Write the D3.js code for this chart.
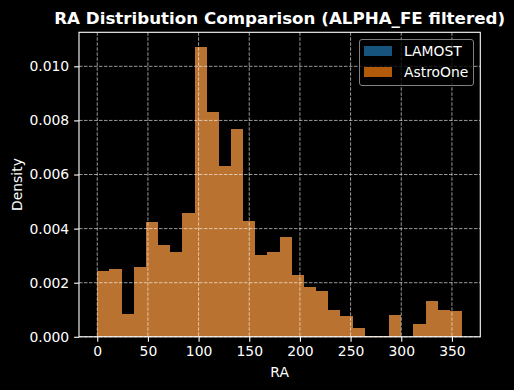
<!DOCTYPE html>
<html><head><meta charset="utf-8">
<script src="https://cdn.jsdelivr.net/npm/d3@7/dist/d3.min.js"></script>
<style>
html,body{margin:0;padding:0;background:#000;}
svg{display:block;font-family:"DejaVu Sans",sans-serif;}
</style></head>
<body>
<svg id="c" width="514" height="390"></svg>
<script>
const binEdges = d3.range(0, 361, 12);
const lamostDensity = [0.002426,0.0025,0.000833,0.002574,0.004241,0.003389,0.00313,0.004574,0.010722,0.008315,0.006315,0.007685,0.004278,0.003019,0.00313,0.003685,0.002278,0.001833,0.001685,0.000981,0.000759,0.000315,0.00003,0.00003,0.000796,0,0.000463,0.001315,0.000981,0.000944];
const astroDensity = lamostDensity.slice();
const xTicks = [0,50,100,150,200,250,300,350];
const yTicks = [0,0.002,0.004,0.006,0.008,0.010];
const seriesNames = ["LAMOST","AstroOne"];
const seriesColors = ["#1f77b4","#ff7f0e"];

const svg = d3.select("#c");
const L=79, R=480.3, T=32.3, B=336.8;
const x = d3.scaleLinear().domain([-18,378]).range([L,R]);
const ymax = d3.max(lamostDensity.concat(astroDensity))*1.05;
const y = d3.scaleLinear().domain([0,ymax]).range([B,T]);

[lamostDensity, astroDensity].forEach((vals,si)=>{
  svg.append("g").attr("shape-rendering","crispEdges").selectAll("rect").data(vals).join("rect")
    .attr("x",(d,i)=>Math.round(x(binEdges[i])))
    .attr("width",(d,i)=>Math.round(x(binEdges[i+1]))-Math.round(x(binEdges[i])))
    .attr("y",d=>Math.round(y(d)))
    .attr("height",d=>Math.round(B)-Math.round(y(d)))
    .attr("fill",seriesColors[si]).attr("fill-opacity",0.7);
});

// grid
const g = svg.append("g").attr("stroke","#ffffff").attr("stroke-opacity",0.75).attr("stroke-width",0.8).attr("stroke-dasharray","3.5,1.5");
xTicks.forEach(t=>g.append("line").attr("x1",x(t)).attr("x2",x(t)).attr("y1",T).attr("y2",B));
yTicks.forEach(t=>g.append("line").attr("x1",L).attr("x2",R).attr("y1",y(t)).attr("y2",y(t)));

// axes
const xa = svg.append("g").attr("transform",`translate(0,${B})`)
  .call(d3.axisBottom(x).tickValues(xTicks).tickSize(4.9).tickPadding(4.9).tickFormat(d3.format("d")));
const ya = svg.append("g").attr("transform",`translate(${L},0)`)
  .call(d3.axisLeft(y).tickValues(yTicks).tickSize(4.9).tickPadding(4.9).tickFormat(d3.format(".3f")));
[xa,ya].forEach(a=>{
  a.select(".domain").remove();
  a.selectAll("line").attr("stroke","#fff").attr("stroke-width",1.1);
  a.selectAll("text").attr("fill","#fff").attr("font-size",13.9).attr("font-family","DejaVu Sans");
});
svg.append("rect").attr("x",L).attr("y",T).attr("width",R-L).attr("height",B-T)
  .attr("fill","none").attr("stroke","#fff").attr("stroke-width",1.1);

// labels
svg.append("text").attr("x",(L+R)/2).attr("y",24).attr("text-anchor","middle")
  .attr("fill","#fff").attr("font-size",16.7).attr("font-weight","bold").text("RA Distribution Comparison (ALPHA_FE filtered)");
svg.append("text").attr("x",(L+R)/2).attr("y",377).attr("text-anchor","middle")
  .attr("fill","#fff").attr("font-size",13.9).text("RA");
svg.append("text").attr("transform",`translate(21.5,${(T+B)/2}) rotate(-90)`).attr("text-anchor","middle")
  .attr("fill","#fff").attr("font-size",13.9).text("Density");

// legend
const lg = svg.append("g");
lg.append("rect").attr("x",359.5).attr("y",39.5).attr("width",114).attr("height",46).attr("rx",2.5)
  .attr("fill","#000").attr("fill-opacity",0.8).attr("stroke","#808080").attr("stroke-width",1);
seriesNames.forEach((n,i)=>{
  lg.append("rect").attr("x",364).attr("y",46+i*21).attr("width",28).attr("height",10)
    .attr("fill",seriesColors[i]).attr("fill-opacity",0.7);
  lg.append("text").attr("x",404).attr("y",56+i*21).attr("fill","#fff").attr("font-size",13.9).text(n);
});
</script>
</body></html>
